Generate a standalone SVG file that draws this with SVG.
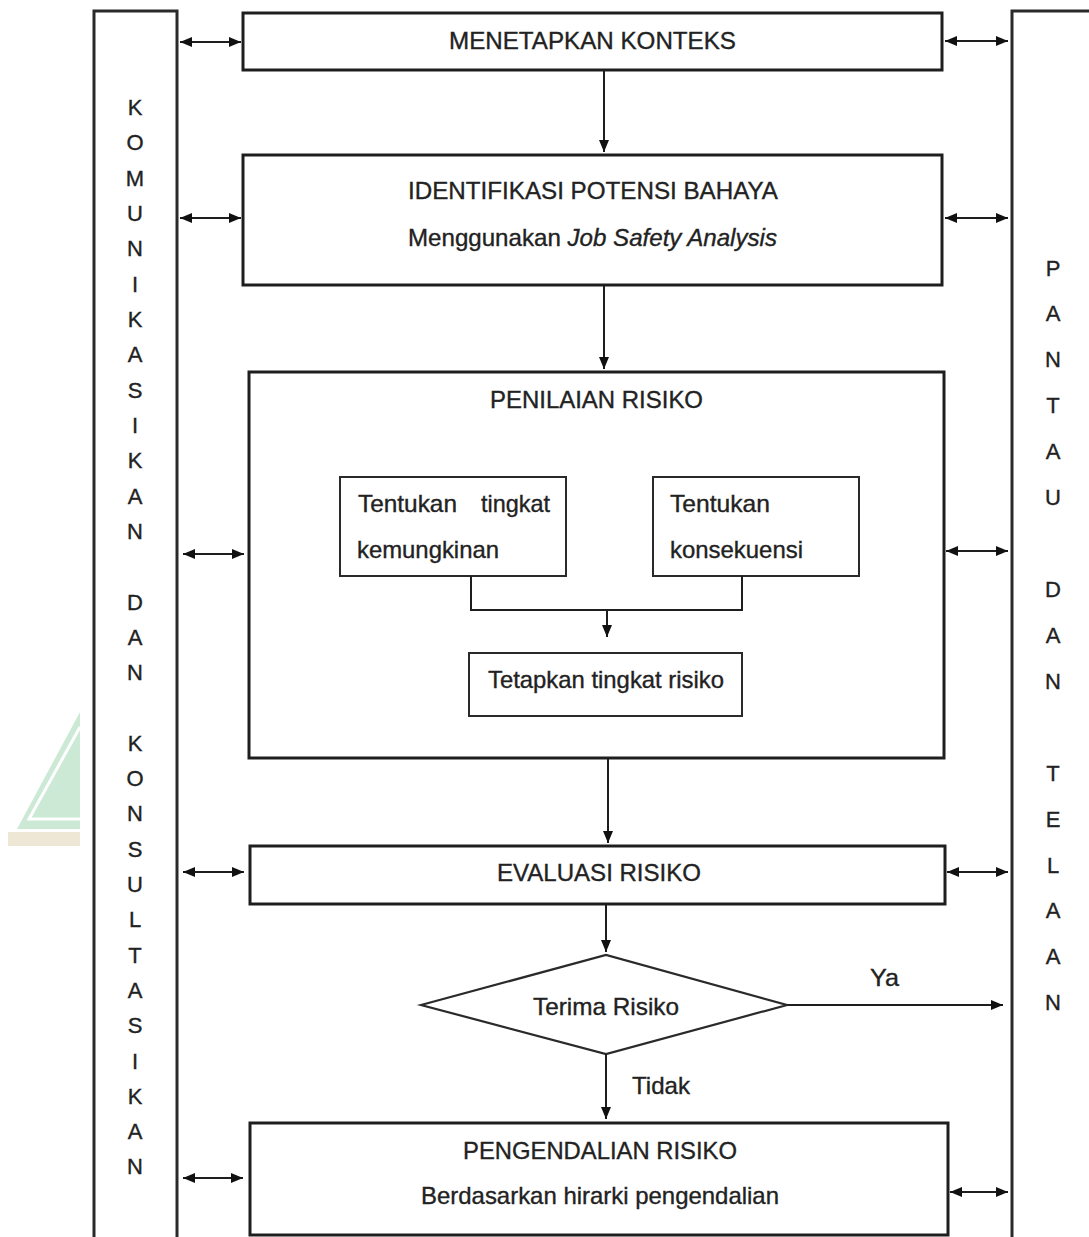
<svg xmlns="http://www.w3.org/2000/svg" width="1089" height="1237" viewBox="0 0 1089 1237">
<defs>
<style>
.box{fill:#fff;stroke:#1e1e1e;stroke-width:3}
.ibox{fill:#fff;stroke:#2a2a2a;stroke-width:2}
.col{fill:#fff;stroke:#2a2a2a;stroke-width:3}
.ln{fill:none;stroke:#1e1e1e;stroke-width:2}
.t{font-family:"Liberation Sans",Arial,sans-serif;font-size:24px;fill:#222;stroke:#222;stroke-width:0.35}
.v{font-family:"Liberation Sans",Arial,sans-serif;font-size:22px;fill:#222;stroke:#222;stroke-width:0.35;text-anchor:middle}
</style>
<marker id="ah" viewBox="0 0 12 10" refX="12" refY="5" markerWidth="12" markerHeight="10" markerUnits="userSpaceOnUse" orient="auto-start-reverse">
<path d="M0,0 L12,5 L0,10 z" fill="#111"/>
</marker>
</defs>
<rect width="1089" height="1237" fill="#fff"/>
<g id="watermark">
<polygon points="17,829 80,712 80,829" fill="#cbe9d5"/>
<polyline points="80,727 29,819 80,819" fill="none" stroke="#fff" stroke-width="3"/>
<rect x="8" y="832" width="72" height="14" fill="#efe7d5"/>
</g>
<g id="komunikasi">
<rect class="col" x="94" y="11" width="83" height="1240"/>
<text class="v" x="135" y="115">K</text><text class="v" x="135" y="150">O</text><text class="v" x="135" y="186">M</text><text class="v" x="135" y="221">U</text><text class="v" x="135" y="256">N</text><text class="v" x="135" y="292">I</text><text class="v" x="135" y="327">K</text><text class="v" x="135" y="362">A</text><text class="v" x="135" y="398">S</text><text class="v" x="135" y="433">I</text><text class="v" x="135" y="468">K</text><text class="v" x="135" y="504">A</text><text class="v" x="135" y="539">N</text>
<text class="v" x="135" y="610">D</text><text class="v" x="135" y="645">A</text><text class="v" x="135" y="680">N</text>
<text class="v" x="135" y="751">K</text><text class="v" x="135" y="786">O</text><text class="v" x="135" y="821">N</text><text class="v" x="135" y="857">S</text><text class="v" x="135" y="892">U</text><text class="v" x="135" y="927">L</text><text class="v" x="135" y="963">T</text><text class="v" x="135" y="998">A</text><text class="v" x="135" y="1033">S</text><text class="v" x="135" y="1069">I</text><text class="v" x="135" y="1104">K</text><text class="v" x="135" y="1139">A</text><text class="v" x="135" y="1174">N</text>
</g>
<g id="pantau">
<rect class="col" x="1012" y="11" width="100" height="1240"/>
<text class="v" x="1053" y="276">P</text><text class="v" x="1053" y="321">A</text><text class="v" x="1053" y="367">N</text><text class="v" x="1053" y="413">T</text><text class="v" x="1053" y="459">A</text><text class="v" x="1053" y="505">U</text>
<text class="v" x="1053" y="597">D</text><text class="v" x="1053" y="643">A</text><text class="v" x="1053" y="689">N</text>
<text class="v" x="1053" y="781">T</text><text class="v" x="1053" y="827">E</text><text class="v" x="1053" y="873">L</text><text class="v" x="1053" y="918">A</text><text class="v" x="1053" y="964">A</text><text class="v" x="1053" y="1010">N</text>
</g>
<g id="menetapkan">
<rect class="box" x="243" y="13" width="699" height="57"/>
<text class="t" x="449" y="49" textLength="287" lengthAdjust="spacingAndGlyphs">MENETAPKAN KONTEKS</text>
</g>
<g id="identifikasi">
<rect class="box" x="243" y="155" width="699" height="130"/>
<text class="t" x="408" y="199" textLength="370" lengthAdjust="spacingAndGlyphs">IDENTIFIKASI POTENSI BAHAYA</text>
<text class="t" x="408" y="246" textLength="369" lengthAdjust="spacingAndGlyphs">Menggunakan <tspan font-style="italic">Job Safety Analysis</tspan></text>
</g>
<g id="penilaian">
<rect class="box" x="249" y="372" width="695" height="386"/>
<text class="t" x="490" y="408" textLength="213" lengthAdjust="spacingAndGlyphs">PENILAIAN RISIKO</text>
</g>
<g id="kemungkinan">
<rect class="ibox" x="340" y="477" width="226" height="99"/>
<text class="t" x="358" y="512" textLength="99" lengthAdjust="spacingAndGlyphs">Tentukan</text>
<text class="t" x="481" y="512" textLength="69" lengthAdjust="spacingAndGlyphs">tingkat</text>
<text class="t" x="357" y="558" textLength="142" lengthAdjust="spacingAndGlyphs">kemungkinan</text>
</g>
<g id="konsekuensi">
<rect class="ibox" x="653" y="477" width="206" height="99"/>
<text class="t" x="670" y="512" textLength="100" lengthAdjust="spacingAndGlyphs">Tentukan</text>
<text class="t" x="670" y="558" textLength="133" lengthAdjust="spacingAndGlyphs">konsekuensi</text>
</g>
<g id="tetapkan">
<rect class="ibox" x="469" y="653" width="273" height="63"/>
<text class="t" x="488" y="688" textLength="236" lengthAdjust="spacingAndGlyphs">Tetapkan tingkat risiko</text>
</g>
<g id="evaluasi">
<rect class="box" x="250" y="846" width="695" height="58"/>
<text class="t" x="497" y="881" textLength="204" lengthAdjust="spacingAndGlyphs">EVALUASI RISIKO</text>
</g>
<g id="terima">
<polygon points="421,1005 606,955 787,1005 606,1054" fill="#fff" stroke="#2a2a2a" stroke-width="2.2"/>
<text class="t" x="533" y="1015" textLength="146" lengthAdjust="spacingAndGlyphs">Terima Risiko</text>
</g>
<g id="pengendalian">
<rect class="box" x="250" y="1123" width="698" height="112"/>
<text class="t" x="463" y="1159" textLength="274" lengthAdjust="spacingAndGlyphs">PENGENDALIAN RISIKO</text>
<text class="t" x="421" y="1204" textLength="358" lengthAdjust="spacingAndGlyphs">Berdasarkan hirarki pengendalian</text>
</g>
<g id="connectors">
<line class="ln" x1="604" y1="70" x2="604" y2="152" marker-end="url(#ah)"/>
<line class="ln" x1="604" y1="285" x2="604" y2="369" marker-end="url(#ah)"/>
<polyline class="ln" points="471,576 471,610 742,610 742,576"/>
<line class="ln" x1="607" y1="610" x2="607" y2="637" marker-end="url(#ah)"/>
<line class="ln" x1="608" y1="758" x2="608" y2="843" marker-end="url(#ah)"/>
<line class="ln" x1="606" y1="904" x2="606" y2="952" marker-end="url(#ah)"/>
<line class="ln" x1="606" y1="1054" x2="606" y2="1119" marker-end="url(#ah)"/>
<line class="ln" x1="787" y1="1005" x2="1003" y2="1005" marker-end="url(#ah)"/>
<text class="t" x="870" y="986" textLength="29" lengthAdjust="spacingAndGlyphs">Ya</text>
<text class="t" x="632" y="1094" textLength="58" lengthAdjust="spacingAndGlyphs">Tidak</text>
<line class="ln" x1="180" y1="42" x2="241" y2="42" marker-start="url(#ah)" marker-end="url(#ah)"/>
<line class="ln" x1="180" y1="218" x2="241" y2="218" marker-start="url(#ah)" marker-end="url(#ah)"/>
<line class="ln" x1="183" y1="554" x2="244" y2="554" marker-start="url(#ah)" marker-end="url(#ah)"/>
<line class="ln" x1="183" y1="872" x2="244" y2="872" marker-start="url(#ah)" marker-end="url(#ah)"/>
<line class="ln" x1="183" y1="1178" x2="243" y2="1178" marker-start="url(#ah)" marker-end="url(#ah)"/>
<line class="ln" x1="945" y1="41" x2="1008" y2="41" marker-start="url(#ah)" marker-end="url(#ah)"/>
<line class="ln" x1="945" y1="218" x2="1008" y2="218" marker-start="url(#ah)" marker-end="url(#ah)"/>
<line class="ln" x1="946" y1="551" x2="1008" y2="551" marker-start="url(#ah)" marker-end="url(#ah)"/>
<line class="ln" x1="947" y1="872" x2="1008" y2="872" marker-start="url(#ah)" marker-end="url(#ah)"/>
<line class="ln" x1="950" y1="1192" x2="1008" y2="1192" marker-start="url(#ah)" marker-end="url(#ah)"/>
</g>
</svg>
